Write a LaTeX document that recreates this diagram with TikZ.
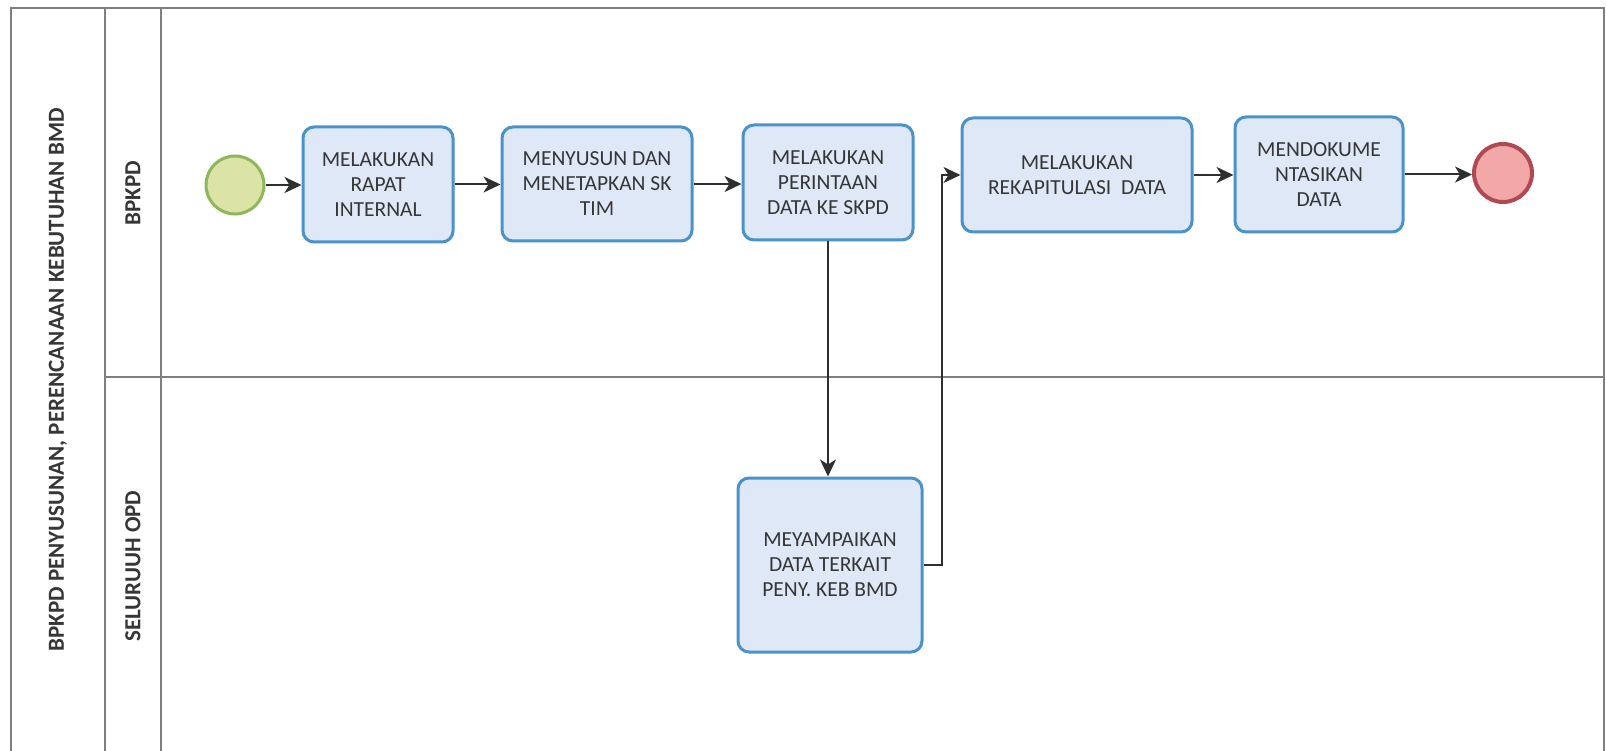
\documentclass[tikz,border=0pt]{standalone}
\usepackage{fontspec}
\setmainfont{Carlito}
\usetikzlibrary{arrows.meta}
\definecolor{boxfill}{HTML}{DFE8F6}
\definecolor{boxline}{HTML}{4A92CC}
\definecolor{startfill}{HTML}{DCE3A6}
\definecolor{startline}{HTML}{8DB85A}
\definecolor{endfill}{HTML}{F2A8A6}
\definecolor{endline}{HTML}{B04A52}
\definecolor{txt}{HTML}{363636}
\definecolor{lane}{HTML}{7F7F7F}
\definecolor{conn}{HTML}{2F2F2F}
\tikzset{
  task/.style={draw=boxline, line width=3pt, fill=boxfill, rounded corners=11pt,
    align=center, text=txt, font=\fontsize{21.5}{25}\selectfont, inner sep=0pt},
  startev/.style={circle, draw=startline, line width=3pt, fill=startfill, minimum size=58pt, inner sep=0pt},
  endev/.style={circle, draw=endline, line width=4pt, fill=endfill, minimum size=58pt, inner sep=0pt},
  laneline/.style={draw=lane, line width=1.8pt},
  lanelabel/.style={rotate=90, font=\bfseries\fontsize{23}{27}\selectfont, text=txt, inner sep=0pt},
  flow/.style={draw=conn, line width=2pt, -{Stealth[length=17pt,width=16pt,inset=5pt]}}
}
\begin{document}
\begin{tikzpicture}[x=1pt,y=-1pt]
\useasboundingbox (0,0) rectangle (1606,751);
\fill[white] (0,0) rectangle (1606,751);
% pool and lanes
\draw[laneline] (11,760) -- (11,8) -- (1604,8) -- (1604,760);
\draw[laneline] (105,8) -- (105,760);
\draw[laneline] (161,8) -- (161,760);
\draw[laneline] (105,377) -- (1604,377);
\node[lanelabel] (pool) at (58,380) {BPKPD PENYUSUNAN, PERENCANAAN KEBUTUHAN BMD};
\node[lanelabel] (lane1) at (133,193) {BPKPD};
\node[lanelabel] (lane2) at (133,566) {SELURUUH OPD};
% events and tasks
\node[startev] (start) at (235,185) {};
\node[task, minimum width=150pt, minimum height=115pt] (t1) at (378,184.5) {MELAKUKAN\\RAPAT\\INTERNAL};
\node[task, minimum width=190pt, minimum height=114pt] (t2) at (597,184) {MENYUSUN DAN\\MENETAPKAN SK\\TIM};
\node[task, minimum width=170pt, minimum height=115pt] (t3) at (828,182.5) {MELAKUKAN\\PERINTAAN\\DATA KE SKPD};
\node[task, minimum width=230pt, minimum height=114pt] (t4) at (1077,175) {MELAKUKAN\\REKAPITULASI\ \ DATA};
\node[task, minimum width=168pt, minimum height=115pt] (t5) at (1319,174.5) {MENDOKUME\\NTASIKAN\\DATA};
\node[task, minimum width=184pt, minimum height=174pt] (t6) at (830,565) {MEYAMPAIKAN\\DATA TERKAIT\\PENY. KEB BMD};
\node[endev] (end) at (1503,173) {};
% flows
\draw[flow] (start.east) -- (start.east -| t1.west);
\draw[flow] (t1.east) -- (t1.east -| t2.west);
\draw[flow] (t2.east) -- (t2.east -| t3.west);
\draw[flow] (t3.south) -- (t3.south |- t6.north);
\draw[flow] (t6.east) -- ++(18,0) |- (t4.west);
\draw[flow] (t4.east) -- (t4.east -| t5.west);
\draw[flow] (t5.east) -- (t5.east -| end.west);
\end{tikzpicture}
\end{document}
